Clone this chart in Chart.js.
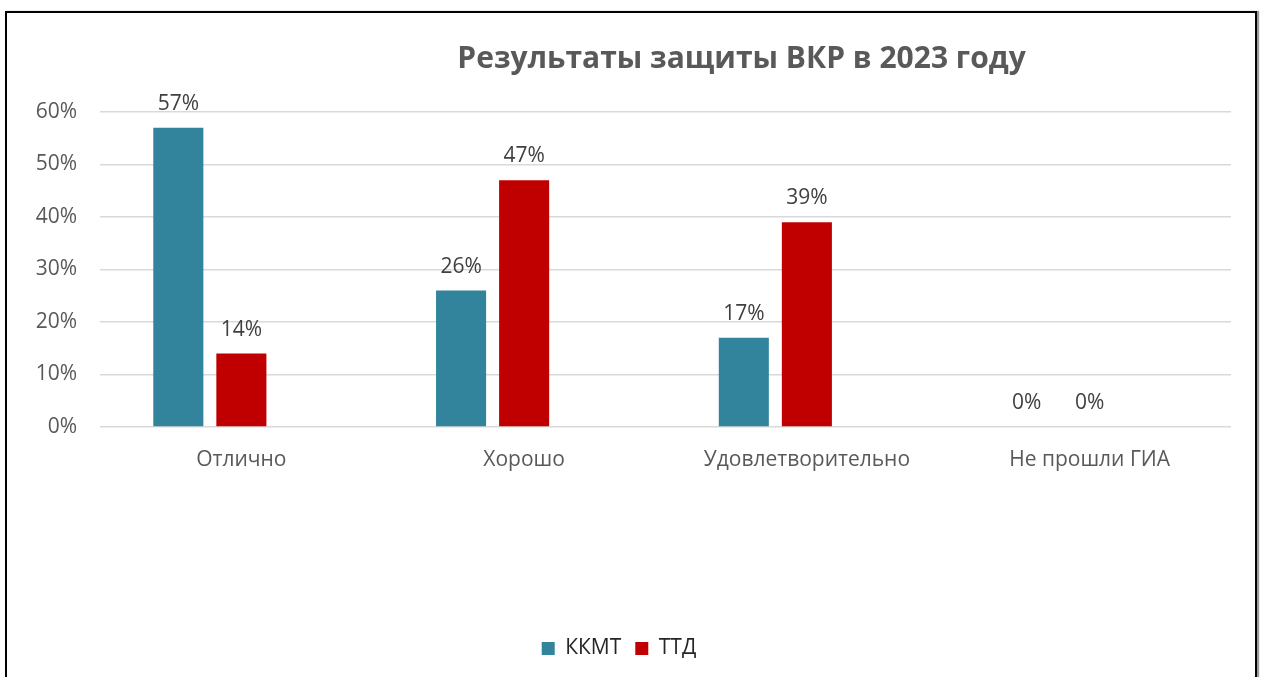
<!DOCTYPE html>
<html>
<head>
<meta charset="utf-8">
<script src="https://cdn.jsdelivr.net/npm/chart.js@4"></script>
<style>
  body { margin: 0; background: #fff; }
  .box {
    position: absolute; left: 5px; top: 11px;
    width: 1248px; height: 700px;
    border: 2px solid #000;
    box-shadow: 2px 0 1px #999;
  }
  canvas { display: block; }
</style>
</head>
<body>
<div class="box"><canvas id="MyChart" width="1248" height="677"></canvas></div>
<script>
let categories = ['Отлично', 'Хорошо', 'Удовлетворительно', 'Не прошли ГИА'];
let kkmt = [57, 26, 17, 0];
let ttd = [14, 47, 39, 0];
let empty = [null, null, null, null];
let chartTitle = 'Результаты защиты ВКР в 2023 году';

Chart.defaults.font.family = 'Open Sans';
Chart.defaults.color = '#595959';

// подписи над столбцами
let barLabels = {
  id: 'barLabels',
  afterDatasetsDraw(chart) {
    let ctx = chart.ctx;
    ctx.save();
    ctx.font = '21px "Open Sans"';
    ctx.fillStyle = '#404040';
    ctx.textAlign = 'center';
    ctx.textBaseline = 'alphabetic';
    chart.data.datasets.forEach((ds, i) => {
      if (ds.data.every(v => v === null)) return;
      chart.getDatasetMeta(i).data.forEach((bar, j) => {
        ctx.fillText(ds.data[j] + '%', bar.x, bar.y - 18);
      });
    });
    ctx.restore();
  }
};

// заголовок смещён вправо, как в исходной диаграмме
let titleText = {
  id: 'titleText',
  afterDraw(chart) {
    let ctx = chart.ctx;
    ctx.save();
    ctx.font = 'bold 30px "Open Sans"';
    ctx.fillStyle = '#595959';
    ctx.textAlign = 'center';
    ctx.textBaseline = 'alphabetic';
    ctx.fillText(chartTitle, chart.chartArea.left + 641 * chart.chartArea.width / 1130, 68 - 13);
    ctx.restore();
  }
};

let myChart = new Chart(document.getElementById('MyChart'), {
  type: 'bar',
  data: {
    labels: categories,
    datasets: [
      { label: 'ККМТ', data: kkmt, backgroundColor: '#31849B' },
      { label: 'ТТД', data: ttd, backgroundColor: '#C00000' },
      { label: '', data: empty, backgroundColor: 'rgba(0,0,0,0)' }
    ]
  },
  options: {
    responsive: false,
    animation: false,
    categoryPercentage: 0.669,
    barPercentage: 0.794,
    layout: { padding: { top: 99, right: 24, bottom: 21, left: 0 } },
    scales: {
      x: {
        grid: { display: false },
        border: { display: false },
        ticks: { font: { size: 21 }, color: '#595959', padding: 12 },
        afterFit(scale) { scale.height = 197; }
      },
      y: {
        min: 0, max: 60,
        ticks: { stepSize: 10, font: { size: 21 }, color: '#595959', padding: 23,
          callback: v => v + '%' },
        grid: { color: '#d9d9d9', lineWidth: 1.5, drawTicks: false },
        border: { display: false },
        afterFit(scale) { scale.width = 93; }
      }
    },
    plugins: {
      title: { display: false },
      tooltip: { enabled: false },
      legend: {
        position: 'bottom',
        labels: {
          boxWidth: 13, boxHeight: 13, color: '#262626', padding: 14,
          font: { size: 21 },
          filter: item => item.text !== ''
        }
      }
    }
  },
  plugins: [barLabels, titleText]
});
</script>
</body>
</html>
